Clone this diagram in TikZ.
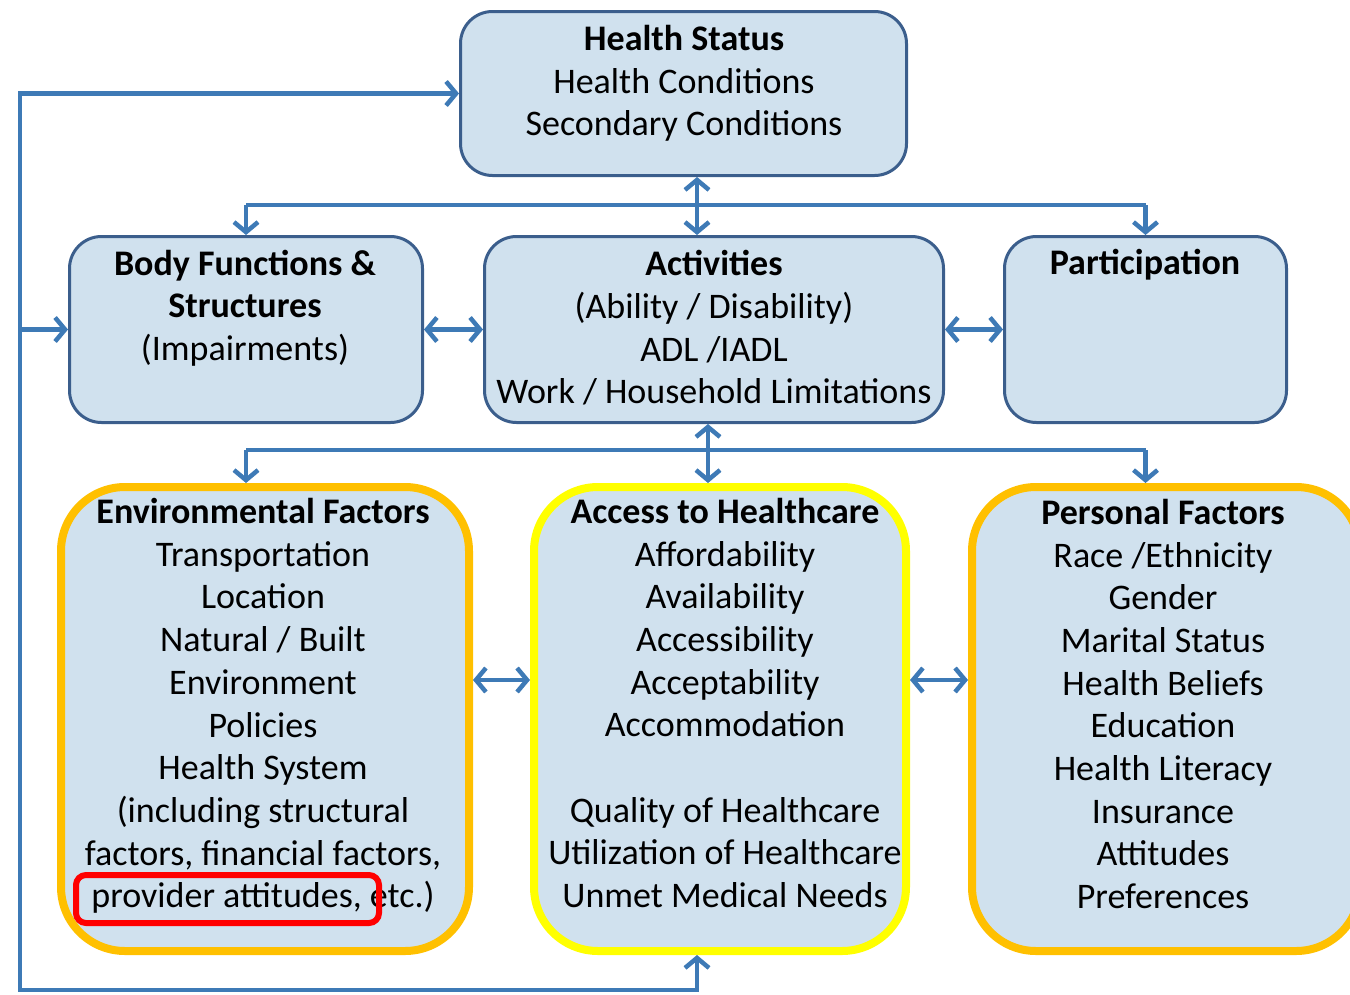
\documentclass[tikz,border=0pt]{standalone}
\usepackage{fontspec}
\setmainfont{Carlito}
\usetikzlibrary{arrows.meta}
\definecolor{boxfill}{RGB}{208,225,238}
\definecolor{boxline}{RGB}{59,94,140}
\definecolor{linkblue}{RGB}{62,122,182}
\definecolor{envorange}{RGB}{255,192,0}
\definecolor{accyellow}{RGB}{255,255,0}
\definecolor{markred}{RGB}{255,0,0}

\begin{document}
\begin{tikzpicture}[x=1pt,y=-1pt,
  font=\fontsize{36}{42.7}\selectfont,
  panel/.style={draw=boxline, line width=3pt, fill=boxfill, rounded corners=32pt,
    inner sep=0pt, rectangle},
  factorbox/.style={line width=8pt, fill=boxfill, rounded corners=64pt,
    inner sep=0pt, rectangle},
  label/.style={align=center, inner sep=0pt, text=black},
  link/.style={draw=linkblue, line width=4.5pt},
  tip/.style={-{Straight Barb[length=10pt,width=24pt]}},
  tips/.style={{Straight Barb[length=10pt,width=24pt]}-{Straight Barb[length=10pt,width=24pt]}},
  redmark/.style={draw=markred, line width=6pt, rounded corners=10pt, rectangle, inner sep=0pt}
]
\useasboundingbox (0,0) rectangle (1350,994);

% ICF boxes, top two rows
\node[panel, minimum width=446pt, minimum height=164pt] (hs) at (683.5,93.5) {};
\node[panel, minimum width=353pt, minimum height=186pt] (body) at (246,329.5) {};
\node[panel, minimum width=459pt, minimum height=186pt] (act) at (714,329.5) {};
\node[panel, minimum width=282pt, minimum height=186pt] (part) at (1145.5,329.5) {};

% contextual factors, bottom row
\node[factorbox, draw=envorange, minimum width=408pt, minimum height=464pt] (env) at (265,719) {};
\node[factorbox, draw=accyellow, minimum width=372pt, minimum height=464pt] (acc) at (720,719) {};
\node[factorbox, draw=envorange, minimum width=388pt, minimum height=464pt] (pers) at (1166,719) {};

% box texts
\node[label] (hsT) at (684,83.5) {\textbf{Health Status}\\Health Conditions\\Secondary Conditions};
\node[label] (bodyT) at (245,308) {\textbf{Body Functions \&}\\\textbf{Structures}\\(Impairments)};
\node[label] (actT) at (714,328) {\textbf{Activities}\\(Ability / Disability)\\ADL /IADL\\Work / Household Limitations};
\node[label, anchor=base] (partT) at (1145,274) {\textbf{Participation}};
\node[label] (envT) at (263,706) {\textbf{Environmental Factors}\\Transportation\\Location\\Natural / Built\\Environment\\Policies\\Health System\\(including structural\\factors, financial factors,\\provider attitudes, etc.)};
\node[label] (accT) at (725,703) {\textbf{Access to Healthcare}\\Affordability\\Availability\\Accessibility\\Acceptability\\Accommodation\\[42.7pt]Quality of Healthcare\\Utilization of Healthcare\\Unmet Medical Needs};
\node[label] (persT) at (1163,704) {\textbf{Personal Factors}\\Race /Ethnicity\\Gender\\Marital Status\\Health Beliefs\\Education\\Health Literacy\\Insurance\\Attitudes\\Preferences};

% highlight around one line
\node[redmark, minimum width=303pt, minimum height=48pt] (mark) at (227.5,899) {};

% routing points for the connector buses
\coordinate (topbus) at (697,205);
\coordinate (midbus) at (708,450);
\coordinate (row3) at (0,680);
\coordinate (loopbl) at (20,990);
\coordinate (looptl) at (loopbl |- hs.west);
\coordinate (accport) at (697,0);

% health status to the three ICF components
\draw[link] (body.north |- topbus) -- (part.north |- topbus);
\draw[link, tip] (body.north |- topbus) -- (body.north);
\draw[link, tip] (part.north |- topbus) -- (part.north);
\draw[link, tips] (hs.south -| topbus) -- (act.north -| topbus);

% links within the ICF row
\draw[link, tips] (body.east) -- (act.west);
\draw[link, tips] (act.east) -- (part.west);

% activities to the contextual factors
\draw[link] (body.south |- midbus) -- (part.south |- midbus);
\draw[link, tip] (body.south |- midbus) -- (body.south |- env.north);
\draw[link, tip] (part.south |- midbus) -- (part.south |- pers.north);
\draw[link, tips] (act.south -| midbus) -- (acc.north -| midbus);

% links within the contextual row
\draw[link, tips] (env.east |- row3) -- (acc.west |- row3);
\draw[link, tips] (acc.east |- row3) -- (pers.west |- row3);

% feedback loop from access back to health status and body functions
\draw[link, tips, line join=miter] (acc.south -| accport) -- (accport |- loopbl) -- (loopbl) -- (looptl) -- (hs.west);
\draw[link, tip] (loopbl |- body.west) -- (body.west);
\end{tikzpicture}
\end{document}
